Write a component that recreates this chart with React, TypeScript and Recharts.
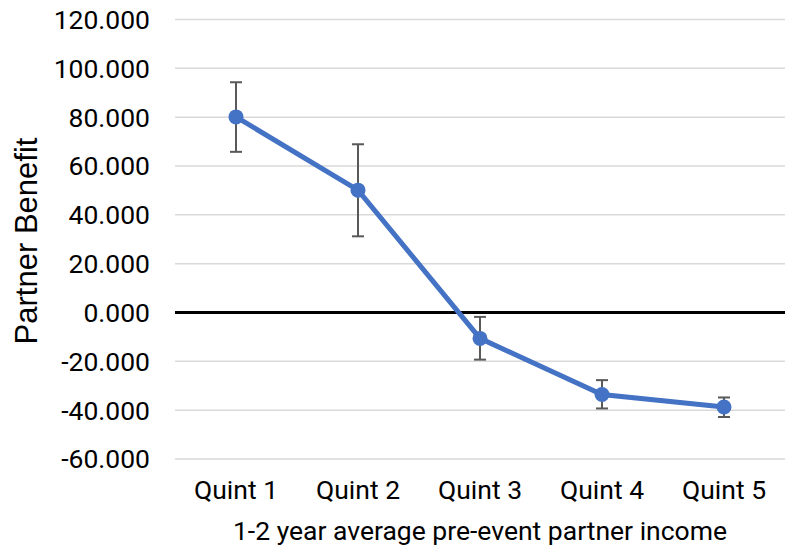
import React from 'react';
import { LineChart, Line, XAxis, YAxis, CartesianGrid, ReferenceLine, ErrorBar } from 'recharts';

const categories = ['Quint 1', 'Quint 2', 'Quint 3', 'Quint 4', 'Quint 5'];
const benefit = [80.1, 50.1, -10.6, -33.6, -38.7];
const upper = [94.3, 68.9, -1.8, -27.7, -34.8];
const lower = [65.8, 31.2, -19.3, -39.3, -42.8];
const yTicks = [-60, -40, -20, 0, 20, 40, 60, 80, 100, 120];

const data = categories.map((c, i) => ({
  name: c,
  value: benefit[i],
  err: [benefit[i] - lower[i], upper[i] - benefit[i]],
}));

const tickStyle = { fontFamily: 'Roboto', fontSize: 26.5, fill: '#000' };

const YLabel = () => (
  <text
    x={37}
    y={241}
    transform="rotate(-90, 37, 241)"
    textAnchor="middle"
    fontFamily="'Liberation Sans', Arial, sans-serif"
    fontSize={31}
    fill="#000"
  >
    Partner Benefit
  </text>
);

export default function App() {
  return (
    <div style={{ position: 'absolute', left: 0, top: 0, background: '#fff' }}>
      <LineChart
        width={794}
        height={548}
        data={data}
        margin={{ top: 19.5, right: 9, bottom: 0, left: 0 }}
      >
        <CartesianGrid vertical={false} stroke="#d9d9d9" strokeWidth={1.5} />
        <XAxis
          dataKey="name"
          axisLine={false}
          tickLine={false}
          tickSize={0}
          tickMargin={21}
          height={89}
          padding={{ left: 61, right: 61 }}
          tick={tickStyle}
          interval={0}
          label={{
            value: '1-2 year average pre-event partner income',
            position: 'insideBottom',
            offset: 8,
            fontFamily: 'Roboto',
            fontSize: 26.5,
            fill: '#000',
          }}
        />
        <YAxis
          domain={[-60, 120]}
          ticks={yTicks}
          axisLine={false}
          tickLine={false}
          tickSize={0}
          tickMargin={25}
          width={175}
          tick={tickStyle}
          tickFormatter={(v: number) => v.toFixed(3)}
          label={{ content: () => <YLabel /> }}
        />
        <ReferenceLine y={0} stroke="#000" strokeWidth={3} />
        <Line
          dataKey="value"
          stroke="#4472C4"
          strokeWidth={5}
          dot={{ r: 7.5, fill: '#4472C4', stroke: '#4472C4', strokeWidth: 0 }}
          activeDot={false}
          isAnimationActive={false}
        >
          <ErrorBar dataKey="err" width={6} stroke="#595959" strokeWidth={2} direction="y" />
        </Line>
      </LineChart>
    </div>
  );
}
